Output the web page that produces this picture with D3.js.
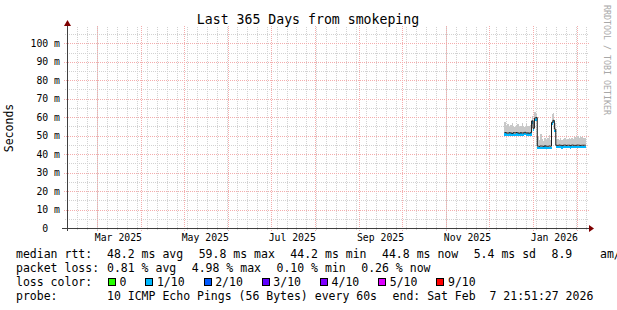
<!DOCTYPE html>
<html>
<head>
<meta charset="UTF-8">
<title>Last 365 Days from smokeping</title>
<style>

    body {
        margin: 0;
        background: #ffffff;
    }

    svg text {
        font-family: "DejaVu Sans Mono", monospace;
        fill: #000000;
        white-space: pre;
    }

    .grid line {
        stroke-width: 1;
        stroke-dasharray: 1,1;
        shape-rendering: crispEdges;
    }

    .grid line.minor {
        stroke: #d2d2d2;
    }

    .grid line.major {
        stroke: #f4adad;
    }

    .axisline {
        stroke: #404040;
        stroke-width: 1;
        shape-rendering: crispEdges;
    }

    .arrow {
        fill: #7f0000;
    }

    rect.smoke {
        fill: #c8c8c8;
        shape-rendering: crispEdges;
    }

    path.median {
        fill: none;
        stroke: #1a1a1a;
        stroke-width: 1;
    }

    .ylabel, .xlabel {
        font-size: 9.8px;
    }

    .legend text {
        font-size: 11.5px;
    }

</style>
</head>
<body>
<script src="https://cdnjs.cloudflare.com/ajax/libs/d3/7.8.5/d3.min.js"></script>
<script>

    // time range of the graph
    var startTime = "2025-02-07T21:51:27Z";
    var endTime = "2026-02-07T21:51:27Z";

    // one entry per day
    var days = [
        "2025-12-12", "2025-12-13", "2025-12-14", "2025-12-15", "2025-12-16",
        "2025-12-17", "2025-12-18", "2025-12-19", "2025-12-20", "2025-12-21", "2025-12-22", "2025-12-23",
        "2025-12-24", "2025-12-25", "2025-12-26", "2025-12-27", "2025-12-28", "2025-12-29", "2025-12-30",
        "2025-12-31", "2026-01-01", "2026-01-02", "2026-01-03", "2026-01-04", "2026-01-05", "2026-01-06",
        "2026-01-07", "2026-01-08", "2026-01-09", "2026-01-10", "2026-01-11", "2026-01-12", "2026-01-13",
        "2026-01-14", "2026-01-15", "2026-01-16", "2026-01-17", "2026-01-18", "2026-01-19", "2026-01-20",
        "2026-01-21", "2026-01-22", "2026-01-23", "2026-01-24", "2026-01-25", "2026-01-26", "2026-01-27",
        "2026-01-28", "2026-01-29", "2026-01-30", "2026-01-31", "2026-02-01", "2026-02-02", "2026-02-03",
        "2026-02-04", "2026-02-05", "2026-02-06"
    ];

    // median rtt in ms
    var medianMs = [
        51.7, 51.5, 51.3, 51.6, 51.5, 51.2, 51.6, 51.4, 51.7, 51.5, 51.3, 51.6,
        51.4, 51.5, 51.8, 51.4, 51.5, 51.3, 51.6,
        58.0, 54.0, 59.5, 59.8,
        44.3, 44.2, 44.4, 44.3, 44.2, 44.5, 44.3, 44.2, 44.4, 44.3,
        57.2, 58.3, 53.5,
        44.8, 44.7, 44.9, 44.8, 44.6, 44.8, 44.9, 44.7, 44.8, 44.8,
        44.6, 44.9, 44.8, 44.7, 44.8, 44.9, 44.8, 44.7, 44.8, 44.8, 44.8
    ];

    // top of the smoke (max rtt) in ms
    var maxMs = [
        57.2, 55.0, 56.2, 54.6, 55.8, 56.9, 55.2, 54.7, 55.9, 56.4, 54.9, 55.5,
        56.8, 55.1, 54.6, 56.2, 55.4, 55.0, 56.0,
        60.5, 58.5, 63.0, 62.0,
        49.5, 47.5, 50.8, 48.0, 47.2, 49.0, 47.6, 48.8, 50.2, 47.9,
        61.5, 62.5, 57.0,
        47.8, 48.2, 47.6, 48.5, 47.9, 48.1, 48.8, 47.7, 48.3, 49.0,
        48.4, 48.9, 48.0, 49.3, 48.6, 49.6, 48.8, 49.8, 49.2, 48.6, 48.9
    ];

    var yTicks = [0, 10, 20, 30, 40, 50, 60, 70, 80, 90, 100];
    var yMax = 108.3;

    var lossLabels = ["0", "1/10", "2/10", "3/10", "4/10", "5/10", "9/10"];
    var lossColors = ["#26ff00", "#00b8ff", "#0059ff", "#5e00ff", "#7e00ff", "#dd00ff", "#ff0000"];
    var medianLossColor = lossColors[1];

    var rttStats = ["48.2 ms avg", "59.8 ms max", "44.2 ms min", "44.8 ms now", "5.4 ms sd", "8.9    am/s"];
    var lossStats = ["0.81 % avg", "4.98 % max", "0.10 % min", "0.26 % now"];
    var probeInfo = ["10 ICMP Echo Pings (56 Bytes) every 60s", "end: Sat Feb  7 21:51:27 2026"];

    var width = 617, height = 310;
    var plotL = 67, plotR = 587, plotT = 28, plotB = 228;

    var svg = d3.select("body").append("svg")
            .attr("width", width)
            .attr("height", height);

    var x = d3.scaleUtc()
            .domain([new Date(startTime), new Date(endTime)])
            .range([plotL, plotR]);

    var y = d3.scaleLinear()
            .domain([0, yMax])
            .range([plotB, plotT]);

    var px = function (v) { return Math.round(v) + 0.5; };

    // grid
    var grid = svg.append("g").attr("class", "grid");

    grid.selectAll("line.hminor")
            .data(d3.range(5, yMax, 10))
            .enter().append("line")
            .attr("class", "minor")
            .attr("x1", plotL - 2).attr("x2", plotR + 2)
            .attr("y1", function (d) { return px(y(d)); })
            .attr("y2", function (d) { return px(y(d)); });

    grid.selectAll("line.vminor")
            .data(d3.utcSaturday.range(x.domain()[0], x.domain()[1]))
            .enter().append("line")
            .attr("class", "minor")
            .attr("x1", function (d) { return px(x(d)); })
            .attr("x2", function (d) { return px(x(d)); })
            .attr("y1", plotB + 2).attr("y2", plotT - 2);

    grid.selectAll("line.hmajor")
            .data(yTicks.slice(1))
            .enter().append("line")
            .attr("class", "major")
            .attr("x1", plotL - 3).attr("x2", plotR + 2)
            .attr("y1", function (d) { return px(y(d)); })
            .attr("y2", function (d) { return px(y(d)); });

    var months = d3.utcMonth.range(x.domain()[0], x.domain()[1]);

    grid.selectAll("line.vmajor")
            .data(months)
            .enter().append("line")
            .attr("class", "major")
            .attr("x1", function (d) { return px(x(d)); })
            .attr("x2", function (d) { return px(x(d)); })
            .attr("y1", plotB + 3).attr("y2", plotT - 2);

    // smoke, loss coloured median band, median line
    var series = days.map(function (d, i) {
        var t = new Date(d + "T00:00:00Z");
        return {date: t, next: d3.utcDay.offset(t, 1), median: medianMs[i], max: maxMs[i]};
    });

    svg.append("g").selectAll("rect.smoke")
            .data(series)
            .enter().append("rect")
            .attr("class", "smoke")
            .attr("x", function (d) { return x(d.date); })
            .attr("width", function (d) { return x(d.next) - x(d.date); })
            .attr("y", function (d) { return y(d.max); })
            .attr("height", function (d) { return y(d.median) - y(d.max); });

    svg.append("g").selectAll("rect.band")
            .data(series)
            .enter().append("rect")
            .attr("fill", medianLossColor)
            .attr("shape-rendering", "crispEdges")
            .attr("x", function (d) { return x(d.date); })
            .attr("width", function (d) { return x(d.next) - x(d.date); })
            .attr("y", function (d) { return y(d.median) + 0.5; })
            .attr("height", 2.5);

    svg.append("path")
            .attr("class", "median")
            .attr("d", series.map(function (d, i) {
                return (i ? "L" : "M") + x(d.date) + "," + y(d.median) + "H" + x(d.next);
            }).join(""));

    // axes
    svg.append("line").attr("class", "axisline")
            .attr("x1", plotL - 5).attr("x2", plotR + 2)
            .attr("y1", plotB + 0.5).attr("y2", plotB + 0.5);

    svg.append("line").attr("class", "axisline")
            .attr("x1", plotL + 0.5).attr("x2", plotL + 0.5)
            .attr("y1", plotB + 3).attr("y2", plotT - 2);

    svg.append("path").attr("class", "arrow")
            .attr("d", "M" + (plotL - 3) + "," + (plotT - 2) + "L" + (plotL + 4) + "," + (plotT - 2) + "L" + (plotL + 0.5) + "," + (plotT - 8) + "Z");

    svg.append("path").attr("class", "arrow")
            .attr("d", "M" + (plotR + 2) + "," + (plotB - 3) + "L" + (plotR + 2) + "," + (plotB + 4) + "L" + (plotR + 7) + "," + (plotB + 0.5) + "Z");

    svg.selectAll("text.ylabel")
            .data(yTicks)
            .enter().append("text")
            .attr("class", "ylabel")
            .attr("x", plotL - 7)
            .attr("y", function (d) { return y(d) + 3.5; })
            .attr("text-anchor", "end")
            .text(function (d) { return d === 0 ? "0  " : d + " m"; });

    svg.selectAll("text.xlabel")
            .data(months.filter(function (d) { return d.getUTCMonth() % 2 === 0; }))
            .enter().append("text")
            .attr("class", "xlabel")
            .attr("x", function (d) { return x(d3.utcDay.offset(d, 15)); })
            .attr("y", 241)
            .attr("text-anchor", "middle")
            .text(d3.utcFormat("%b %Y"));

    // titles
    svg.append("text")
            .attr("x", 308)
            .attr("y", 24)
            .attr("text-anchor", "middle")
            .style("font-size", "13.2px")
            .text("Last 365 Days from smokeping");

    svg.append("text")
            .attr("transform", "translate(13,128) rotate(-90)")
            .attr("text-anchor", "middle")
            .style("font-size", "11.5px")
            .text("Seconds");

    svg.append("text")
            .attr("transform", "translate(604,60) rotate(90)")
            .attr("text-anchor", "middle")
            .style("font-size", "8.3px")
            .style("fill", "#a8a8a8")
            .text("RRDTOOL / TOBI OETIKER");

    // legend
    var legend = svg.append("g").attr("class", "legend");
    var col1 = 16, col2 = 107, glue = 15.5;

    function row(label, items, baseline) {
        legend.append("text").attr("x", col1).attr("y", baseline).text(label);
        var cx = col2;
        items.forEach(function (s) {
            var t = legend.append("text").attr("x", cx).attr("y", baseline).text(s);
            cx += t.node().getComputedTextLength() + glue;
        });
    }

    row("median rtt:", rttStats, 258);
    row("packet loss:", lossStats, 272);
    row("probe:", probeInfo, 300);

    legend.append("text").attr("x", col1).attr("y", 286).text("loss color:");
    var bx = col2 + 1;
    lossLabels.forEach(function (s, i) {
        legend.append("rect")
                .attr("x", bx + 0.5).attr("y", 278.5)
                .attr("width", 7).attr("height", 7)
                .attr("fill", lossColors[i])
                .attr("stroke", "#000000")
                .attr("shape-rendering", "crispEdges");
        var t = legend.append("text").attr("x", bx + 11.5).attr("y", 286).text(s);
        bx += 11.5 + t.node().getComputedTextLength() + 19;
    });

</script>
</body>
</html>
